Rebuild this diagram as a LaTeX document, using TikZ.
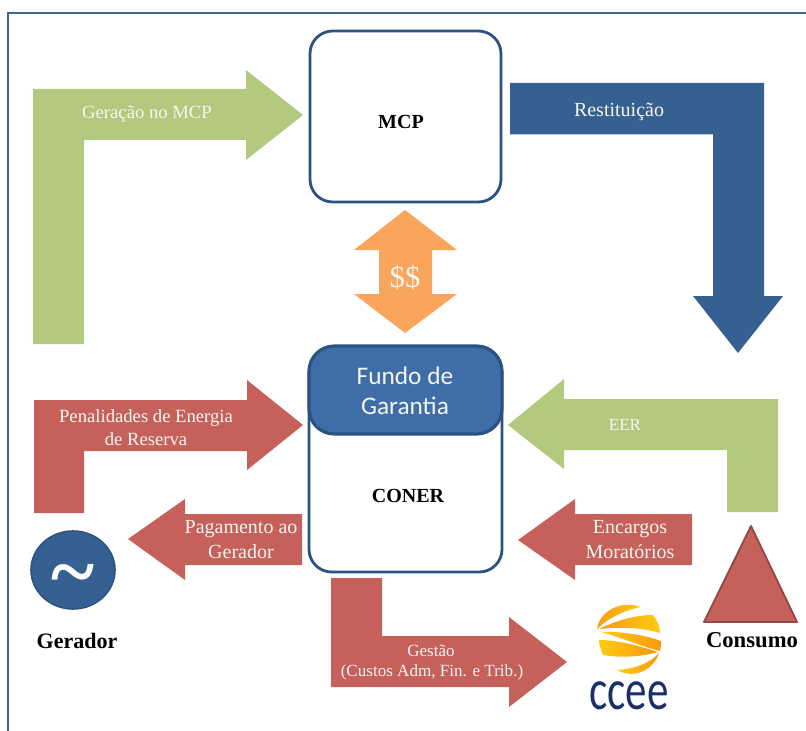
\documentclass[tikz,border=0pt]{standalone}
\usepackage{fontspec}
\setmainfont{Liberation Serif}
\newfontfamily\calfont{Carlito}
\newfontfamily\logofont{Carlito}
\definecolor{grn}{HTML}{B2C97E}
\definecolor{blu}{HTML}{376092}
\definecolor{redd}{HTML}{C6605A}
\definecolor{orng}{HTML}{F9A55B}
\definecolor{fund}{HTML}{3E6DA8}
\definecolor{edgeblue}{HTML}{2C5282}
\definecolor{framec}{HTML}{46658F}
\definecolor{txtw}{HTML}{F4F6F0}
\definecolor{ylw}{HTML}{FFCB12}
\definecolor{org}{HTML}{F89A10}
\definecolor{logoblue}{HTML}{1B2F6E}
\tikzset{
  x=0.75pt,y=-0.75pt,
  grnarrow/.style={fill=grn,draw=none},
  bluarrow/.style={fill=blu,draw=none},
  redarrow/.style={fill=redd,draw=none},
  orgarrow/.style={fill=orng,draw=none},
  boxw/.style={draw=edgeblue,line width=2.1pt,fill=white,rounded corners=17pt},
  boxf/.style={draw=edgeblue,line width=2.4pt,fill=fund,rounded corners=19pt},
  lab/.style={text=txtw,font=\fontsize{14}{16}\selectfont,inner sep=0pt,align=center},
  labm/.style={lab,font=\fontsize{15}{17}\selectfont},
  labs/.style={lab,font=\fontsize{12.800}{15}\selectfont},
  blk/.style={text=black,font=\fontsize{15}{17}\bfseries\selectfont,inner sep=0pt},
  blkb/.style={text=black,font=\fontsize{16.500}{18}\bfseries\selectfont,inner sep=0pt},
  fundlab/.style={text=txtw,font=\calfont\fontsize{19}{21}\selectfont,inner sep=0pt},
  bandl/.style={left color=org,right color=ylw,draw=none},
  bandr/.style={left color=ylw,right color=org,draw=none},
}
\begin{document}
\begin{tikzpicture}
\useasboundingbox (0,0) rectangle (806,731);
% frame
\draw[framec,line width=1.5pt] (8,731) -- (8,13) -- (806,13);
% boxes
\draw[boxw] (310,31) rectangle (501,202);
\node[blk] (mcp) at (401,122) {MCP};
\draw[boxw] (309,350) rectangle (502,572);
\draw[boxf] (309,346) rectangle (502,434);
\node[fundlab] (fundo1) at (405,376) {Fundo de};
\node[fundlab] (fundo2) at (405,406) {Garantia};
\node[blk] (coner) at (408,496) {CONER};
% green top arrow
\fill[grnarrow] (33,344) -- (33,89) -- (246,89) -- (246,70) -- (303,115) -- (246,160) -- (246,140) -- (84,140) -- (84,344) -- cycle;
\node[lab] (geracao) at (147,114) {Geração no MCP};
% blue arrow
\fill[bluarrow] (510,83) -- (764,83) -- (764,296) -- (783,296) -- (738,353) -- (693,296) -- (713,296) -- (713,134.500) -- (510,134.500) -- cycle;
\node[labm] (restit) at (619,112) {Restituição};
% orange double
\fill[orgarrow] (405,210) -- (457,250) -- (432,250) -- (432,294) -- (457,294) -- (405,333) -- (354,294) -- (379,294) -- (379,250) -- (354,250) -- cycle;
\node[lab,font=\fontsize{23}{25}\selectfont] (dollar) at (405,278) {\$\$};
% red penalidades
\fill[redarrow] (34,513) -- (34,400) -- (247,400) -- (247,380) -- (303,425) -- (247,470) -- (247,451) -- (84,451) -- (84,513) -- cycle;
\node[lab] (penal1) at (146,418) {Penalidades de Energia};
\node[lab] (penal2) at (146,439) {de Reserva};
% pagamento
\fill[redarrow] (128,539) -- (185,499) -- (185,514) -- (302,514) -- (302,565) -- (185,565) -- (185,580) -- cycle;
\node[labm] (pag1) at (241,529) {Pagamento ao};
\node[labm] (pag2) at (241,552) {Gerador};
% generator
\draw[draw=edgeblue,line width=1.2pt,fill=blu] (73,570) ellipse (42 and 39);
\node[text=white,font=\fontsize{62}{62}\bfseries\selectfont,inner sep=0pt] (tilde) at (73,582) {\textasciitilde};
\node[blkb] (gerador) at (77,641) {Gerador};
% EER
\fill[grnarrow] (508,425) -- (564,379) -- (564,399) -- (778,399) -- (778,512) -- (727,512) -- (727,450) -- (564,450) -- (564,469) -- cycle;
\node[labs] (eer) at (625,425) {EER};
% encargos
\fill[redarrow] (518,540) -- (575,499) -- (575,514) -- (692,514) -- (692,565) -- (575,565) -- (575,580) -- cycle;
\node[labm] (enc1) at (630,529) {Encargos};
\node[labm] (enc2) at (630,552) {Moratórios};
% consumo
\draw[fill=redd,draw=redd!75!black,line width=1.4pt,line join=round] (751,526) -- (797,622) -- (704,622) -- cycle;
\node[blkb,font=\fontsize{17}{19}\bfseries\selectfont] (consumo) at (752,640) {Consumo};
% gestao
\fill[redarrow] (331,578) -- (382,578) -- (382,636) -- (509,636) -- (509,617) -- (567,662) -- (509,707) -- (509,687) -- (331,687) -- cycle;
\node[labs] (gest1) at (431,651) {Gestão};
\node[labs] (gest2) at (432,672) {(Custos Adm, Fin. e Trib.)};
% logo
\shade[bandl] (597,629) .. controls (600,610) and (622,600) .. (641,607) .. controls (625,610) and (608,618) .. cycle;
\shade[bandl] (599,629) .. controls (615,621) and (635,615) .. (653,615) .. controls (657,620) and (660,626) .. (660,633) .. controls (640,627) and (620,627) .. cycle;
\shade[bandr] (601,632) .. controls (620,631) and (645,635) .. (661,641) .. controls (661,644) and (661,647) .. (660,651) .. controls (640,646) and (620,637) .. cycle;
\shade[bandr] (599,640) .. controls (618,640) and (640,646) .. (658,652) .. controls (640,657) and (620,658) .. (603,655) .. controls (601,650) and (599,645) .. cycle;
\shade[bandr] (659,653) .. controls (654,669) and (635,680) .. (617,670) .. controls (635,669) and (650,663) .. cycle;
\node[text=logoblue,font=\logofont\fontsize{43}{43}\selectfont,inner sep=0pt,xscale=.75,transform shape] (ccee) at (629,696) {ccee};
\end{tikzpicture}
\end{document}
